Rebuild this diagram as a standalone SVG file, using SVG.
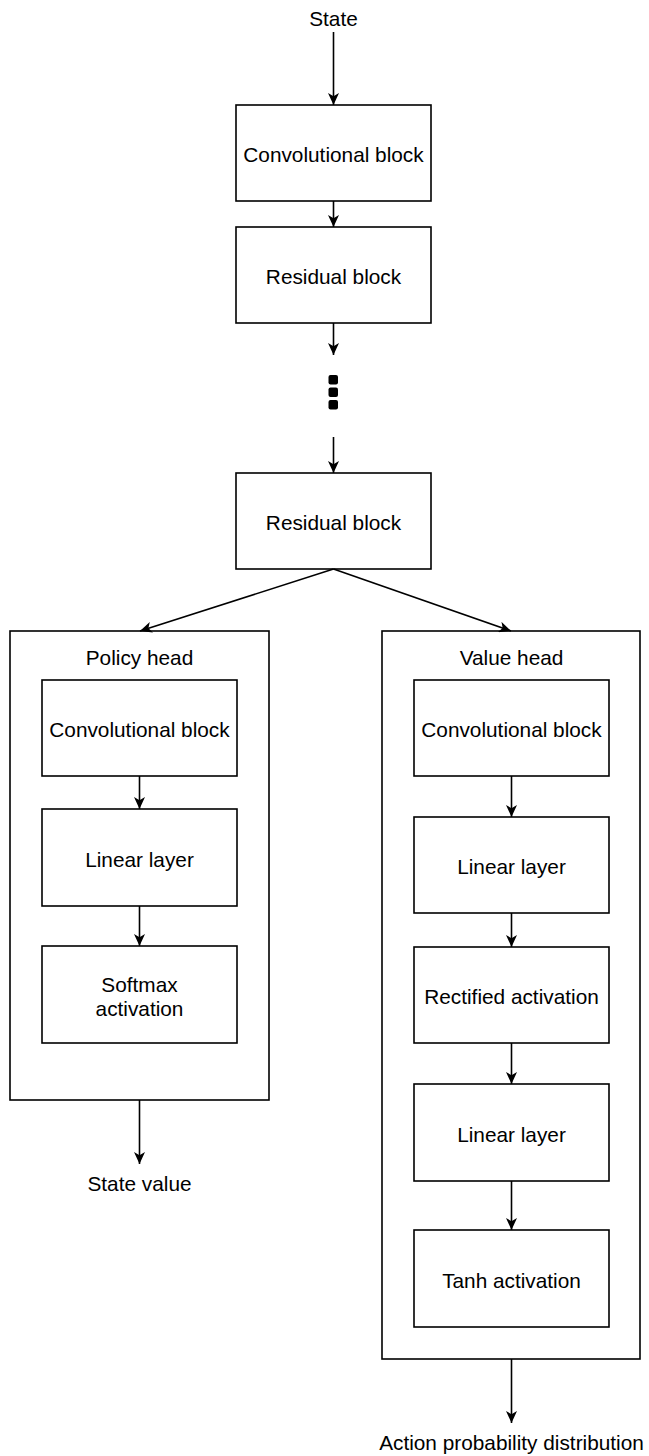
<svg xmlns="http://www.w3.org/2000/svg" width="649" height="1456" viewBox="0 0 649 1456">
  <style>
    .box { fill: #ffffff; stroke: #000000; stroke-width: 1.6; }
    .lbl { font-family: "Liberation Sans", Arial, Helvetica, sans-serif; font-size: 20.8px; fill: #000000; text-anchor: middle; }
    .edge { fill: none; stroke: #000000; stroke-width: 1.6; marker-end: url(#arrow); }
    .dot { fill: #000000; }
  </style>
  <defs>
    <marker id="arrow" markerUnits="userSpaceOnUse" viewBox="0 0 12 11" refX="12" refY="5.5" markerWidth="12" markerHeight="11" orient="auto">
      <path d="M0,0 L12,5.5 L0,11 L3.2,5.5 Z" fill="#000000"/>
    </marker>
  </defs>
  <rect width="649" height="1456" fill="#ffffff"/>

  <!-- trunk -->
  <g id="state-in">
    <text class="lbl" x="333.5" y="26">State</text>
  </g>
  <g id="conv-block">
    <rect class="box" x="236" y="105" width="195" height="96"/>
    <text class="lbl" x="333.5" y="162">Convolutional block</text>
  </g>
  <g id="residual-block-1">
    <rect class="box" x="236" y="227" width="195" height="96"/>
    <text class="lbl" x="333.5" y="284">Residual block</text>
  </g>
  <g id="repeat-dots">
    <rect class="dot" x="328.5" y="375" width="9.5" height="9.5" rx="2"/>
    <rect class="dot" x="328.5" y="387.5" width="9.5" height="9.5" rx="2"/>
    <rect class="dot" x="328.5" y="400" width="9.5" height="9.5" rx="2"/>
  </g>
  <g id="residual-block-2">
    <rect class="box" x="236" y="473" width="195" height="96"/>
    <text class="lbl" x="333.5" y="530">Residual block</text>
  </g>

  <!-- policy head -->
  <g id="policy-head">
    <rect class="box" x="10" y="631" width="259" height="469"/>
    <text class="lbl" x="139.5" y="664.5">Policy head</text>
  </g>
  <g id="policy-conv">
    <rect class="box" x="42" y="680" width="195" height="96"/>
    <text class="lbl" x="139.5" y="737">Convolutional block</text>
  </g>
  <g id="policy-linear">
    <rect class="box" x="42" y="809" width="195" height="97"/>
    <text class="lbl" x="139.5" y="866.5">Linear layer</text>
  </g>
  <g id="policy-softmax">
    <rect class="box" x="42" y="946" width="195" height="97"/>
    <text class="lbl" x="139.5" y="991.5">Softmax</text>
    <text class="lbl" x="139.5" y="1015.5">activation</text>
  </g>
  <g id="state-value">
    <text class="lbl" x="139.5" y="1191">State value</text>
  </g>

  <!-- value head -->
  <g id="value-head">
    <rect class="box" x="382" y="631" width="258" height="728"/>
    <text class="lbl" x="511.5" y="664.5">Value head</text>
  </g>
  <g id="value-conv">
    <rect class="box" x="414" y="680" width="195" height="96"/>
    <text class="lbl" x="511.5" y="737">Convolutional block</text>
  </g>
  <g id="value-linear-1">
    <rect class="box" x="414" y="817" width="195" height="96"/>
    <text class="lbl" x="511.5" y="874">Linear layer</text>
  </g>
  <g id="value-relu">
    <rect class="box" x="414" y="947" width="195" height="96"/>
    <text class="lbl" x="511.5" y="1004">Rectified activation</text>
  </g>
  <g id="value-linear-2">
    <rect class="box" x="414" y="1084" width="195" height="97"/>
    <text class="lbl" x="511.5" y="1141.5">Linear layer</text>
  </g>
  <g id="value-tanh">
    <rect class="box" x="414" y="1230" width="195" height="97"/>
    <text class="lbl" x="511.5" y="1287.5">Tanh activation</text>
  </g>
  <g id="action-dist">
    <text class="lbl" x="511.5" y="1450">Action probability distribution</text>
  </g>

  <!-- connectors -->
  <g id="connectors">
    <path class="edge" d="M333.5,32 L333.5,105"/>
    <path class="edge" d="M333.5,201 L333.5,227"/>
    <path class="edge" d="M333.5,323 L333.5,355"/>
    <path class="edge" d="M333.5,437 L333.5,473"/>
    <path class="edge" d="M333.5,569 L140,631"/>
    <path class="edge" d="M333.5,569 L511,631"/>
    <path class="edge" d="M139.5,776 L139.5,809"/>
    <path class="edge" d="M139.5,906 L139.5,946"/>
    <path class="edge" d="M139.5,1100 L139.5,1164"/>
    <path class="edge" d="M511.5,776 L511.5,817"/>
    <path class="edge" d="M511.5,913 L511.5,947"/>
    <path class="edge" d="M511.5,1043 L511.5,1084"/>
    <path class="edge" d="M511.5,1181 L511.5,1230"/>
    <path class="edge" d="M511.5,1359 L511.5,1423"/>
  </g>
</svg>
